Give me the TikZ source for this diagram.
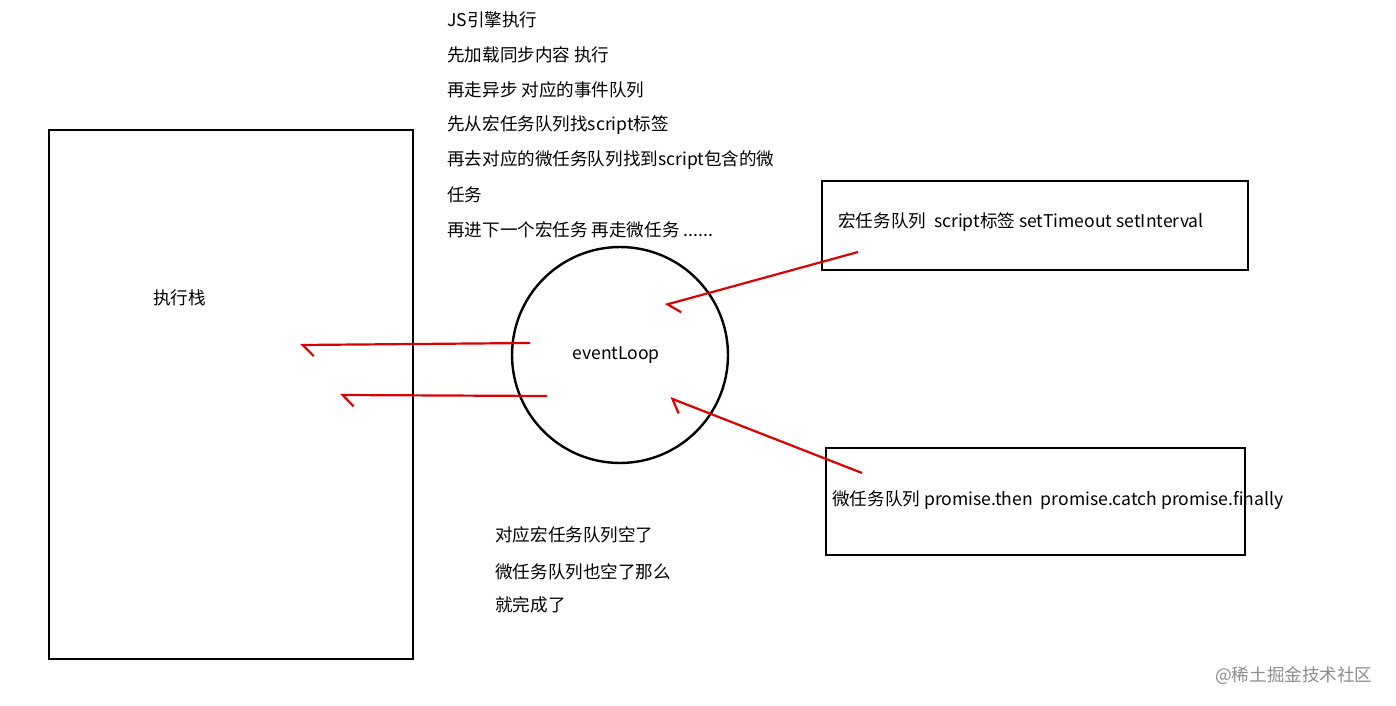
\documentclass[tikz,border=0pt]{standalone}
\usepackage{fontspec}
\setmainfont{Noto Sans CJK SC}
\usetikzlibrary{arrows.meta,positioning}
\tikzset{box/.style={draw, line width=0.56mm, inner sep=0mm}}
\tikzset{note/.style={anchor=west, inner sep=0mm, font=\fontsize{10}{12}\selectfont}}
\tikzset{redarrow/.style={draw=red!85!black, line width=0.44mm,
	-{Straight Barb[left, length=2.2mm, width=4.5mm]}}}
\begin{document}
\begin{tikzpicture}[x=0.02cm, y=-0.02cm]
\useasboundingbox (0,0) rectangle (1396,706);

% stack
\draw[box] (49,130) rectangle (413,659);
\node[note] (stack) at (153,298) {执行栈};

% loop
\node[draw, circle, line width=0.48mm, minimum size=4.32cm] (loop) at (620,355) {};
\node[note] (looptext) at (572,355) {eventLoop};

% queues
\draw[box] (822,181) rectangle (1248,270);
\node[note] (macro) at (838,222) {宏任务队列\ \ script标签 setTimeout setInterval};
\draw[box] (826,448) rectangle (1245,555);
\node[note] (micro) at (832,500) {微任务队列 promise.then\ \ promise.catch promise.finally};

% top notes
\foreach \t [count=\i from 0] in {JS引擎执行, 先加载同步内容 执行, 再走异步 对应的事件队列,
	先从宏任务队列找script标签, 再去对应的微任务队列找到script包含的微, 任务,
	{再进下一个宏任务 再走微任务 {......}}}
	\node[note] (top\i) at (447,20+35*\i) {\t};

% bottom notes
\node[note] (end0) at (495,535) {对应宏任务队列空了};
\node[note] (end1) at (495,572) {微任务队列也空了那么};
\node[note] (end2) at (495,605) {就完成了};

\node[note, text=black!45] (mark) at (1215,676) {@稀土掘金技术社区};

% arrows
\coordinate (a1) at (530,343); \coordinate (b1) at (300,345);
\coordinate (a2) at (547,396); \coordinate (b2) at (340,395);
\coordinate (a3) at (858,252); \coordinate (b3) at (665,305);
\coordinate (a4) at (862,473); \coordinate (b4) at (670,398);
\draw[redarrow] (a1) -- (b1);
\draw[redarrow] (a2) -- (b2);
\draw[redarrow] (a3) -- (b3);
\draw[redarrow] (a4) -- (b4);

\end{tikzpicture}
\end{document}
